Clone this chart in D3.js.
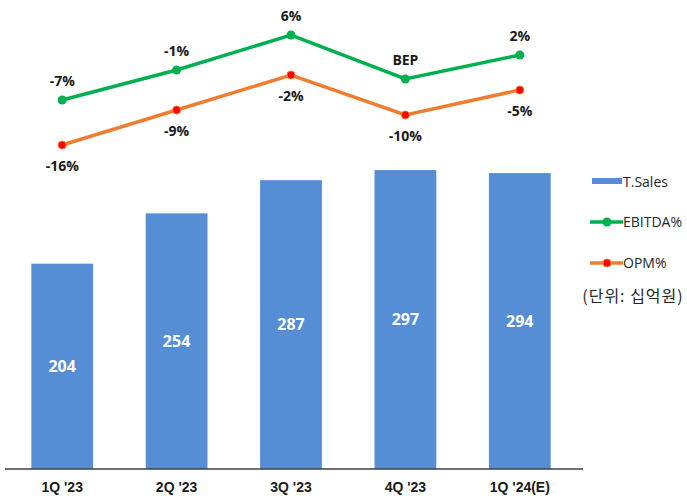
<!DOCTYPE html>
<html>
  <head>
    <meta charset="utf-8">
    <title>T.Sales / EBITDA / OPM</title>
    <script src="https://cdn.jsdelivr.net/npm/d3@7"></script>
    <style>
      body { margin: 0; background: #fff; }
      svg { display: block; font-family: "Open Sans", "Noto Sans CJK KR", sans-serif; }
      .pct { font-size: 14px; font-weight: bold; fill: #1a1a1a; text-anchor: middle; }
      .val { font-size: 16px; font-weight: bold; fill: #fff; text-anchor: middle; }
      .cat { font-size: 14px; font-weight: bold; fill: #1a1a1a; text-anchor: middle; }
      .leg { font-size: 14px; fill: #262626; }
    </style>
  </head>
  <body>
    <script>
    const categories = ["1Q '23", "2Q '23", "3Q '23", "4Q '23", "1Q '24(E)"];
    const sales = [204, 254, 287, 297, 294];
    const ebitda = [-7, -1, 6, -2.8, 2];
    const ebitdaLabels = ["-7%", "-1%", "6%", "BEP", "2%"];
    const opm = [-16, -9, -2, -10, -5];
    const opmLabels = ["-16%", "-9%", "-2%", "-10%", "-5%"];

    const W = 687, H = 496;
    const plot = {left: 5, right: 583, bottom: 469};

    const svg = d3.select('body').append('svg')
      .attr('width', W)
      .attr('height', H);

    const x = d3.scaleBand()
      .domain(categories)
      .range([plot.left, 577])
      .paddingInner(0.46)
      .paddingOuter(0.23);

    const y = d3.scaleLinear().domain([0, 466]).range([plot.bottom, 0]);
    const y2 = d3.scaleLinear().domain([-20, 10]).range([165, 15]);

    // bars
    svg.selectAll('.bar')
      .data(sales).enter()
      .append('rect')
      .attr('class', 'bar')
      .attr('x', (d, i) => x(categories[i]))
      .attr('y', d => y(d))
      .attr('width', x.bandwidth())
      .attr('height', d => plot.bottom - y(d))
      .attr('fill', '#558ED5');

    svg.selectAll('.val')
      .data(sales).enter()
      .append('text')
      .attr('class', 'val')
      .attr('x', (d, i) => x(categories[i]) + x.bandwidth() / 2)
      .attr('y', d => (y(d) + plot.bottom) / 2)
      .attr('dy', '0.35em')
      .text(d => d);

    // x axis
    const xAxis = svg.append('g')
      .attr('transform', 'translate(0,' + plot.bottom + ')')
      .call(d3.axisBottom(x).tickSize(0).tickPadding(13));
    xAxis.select('.domain').remove();
    xAxis.append('line')
      .attr('x1', plot.left).attr('x2', plot.right)
      .attr('stroke', '#404040').attr('stroke-width', 1.5);
    xAxis.selectAll('.tick text').attr('class', 'cat').attr('font-family', null).attr('font-size', null);

    const cx = i => x(categories[i]) + x.bandwidth() / 2;
    const line = d3.line().x((d, i) => cx(i)).y(d => y2(d));

    // EBITDA%
    svg.append('path')
      .datum(ebitda)
      .attr('d', line)
      .attr('fill', 'none')
      .attr('stroke', '#00B050')
      .attr('stroke-width', 3.5);
    svg.selectAll('.dot-e')
      .data(ebitda).enter()
      .append('circle')
      .attr('cx', (d, i) => cx(i))
      .attr('cy', d => y2(d))
      .attr('r', 4.5)
      .attr('fill', '#00B050');
    svg.selectAll('.lab-e')
      .data(ebitda).enter()
      .append('text')
      .attr('class', 'pct')
      .attr('x', (d, i) => cx(i))
      .attr('y', d => y2(d) - 19)
      .attr('dy', '0.35em')
      .text((d, i) => ebitdaLabels[i]);

    // OPM%
    svg.append('path')
      .datum(opm)
      .attr('d', line)
      .attr('fill', 'none')
      .attr('stroke', '#ED7D31')
      .attr('stroke-width', 3.5);
    svg.selectAll('.dot-o')
      .data(opm).enter()
      .append('circle')
      .attr('cx', (d, i) => cx(i))
      .attr('cy', d => y2(d))
      .attr('r', 4)
      .attr('fill', '#FF0000')
      .attr('stroke', '#ED7D31')
      .attr('stroke-width', 1);
    svg.selectAll('.lab-o')
      .data(opm).enter()
      .append('text')
      .attr('class', 'pct')
      .attr('x', (d, i) => cx(i))
      .attr('y', d => y2(d) + 21)
      .attr('dy', '0.35em')
      .text((d, i) => opmLabels[i]);

    // legend
    const leg = svg.append('g');
    leg.append('rect')
      .attr('x', 592).attr('y', 178).attr('width', 30).attr('height', 6)
      .attr('fill', '#558ED5');
    leg.append('text').attr('class', 'leg')
      .attr('x', 623).attr('y', 182).attr('dy', '0.35em').text('T.Sales');

    leg.append('line')
      .attr('x1', 590).attr('x2', 623).attr('y1', 222).attr('y2', 222)
      .attr('stroke', '#00B050').attr('stroke-width', 3.5);
    leg.append('circle').attr('cx', 607).attr('cy', 222).attr('r', 4.5).attr('fill', '#00B050');
    leg.append('text').attr('class', 'leg')
      .attr('x', 623).attr('y', 222).attr('dy', '0.35em').text('EBITDA%');

    leg.append('line')
      .attr('x1', 590).attr('x2', 623).attr('y1', 263).attr('y2', 263)
      .attr('stroke', '#ED7D31').attr('stroke-width', 3.5);
    leg.append('circle').attr('cx', 607).attr('cy', 263).attr('r', 4)
      .attr('fill', '#FF0000').attr('stroke', '#ED7D31');
    leg.append('text').attr('class', 'leg')
      .attr('x', 623).attr('y', 263).attr('dy', '0.35em').text('OPM%');

    svg.append('text')
      .attr('x', 633).attr('y', 296).attr('dy', '0.35em')
      .attr('text-anchor', 'middle')
      .attr('font-size', 16).attr('fill', '#262626')
      .attr('letter-spacing', 1)
      .attr('font-family', '"Noto Sans CJK KR", sans-serif')
      .text('(단위: 십억원)');
    </script>
  </body>
</html>
